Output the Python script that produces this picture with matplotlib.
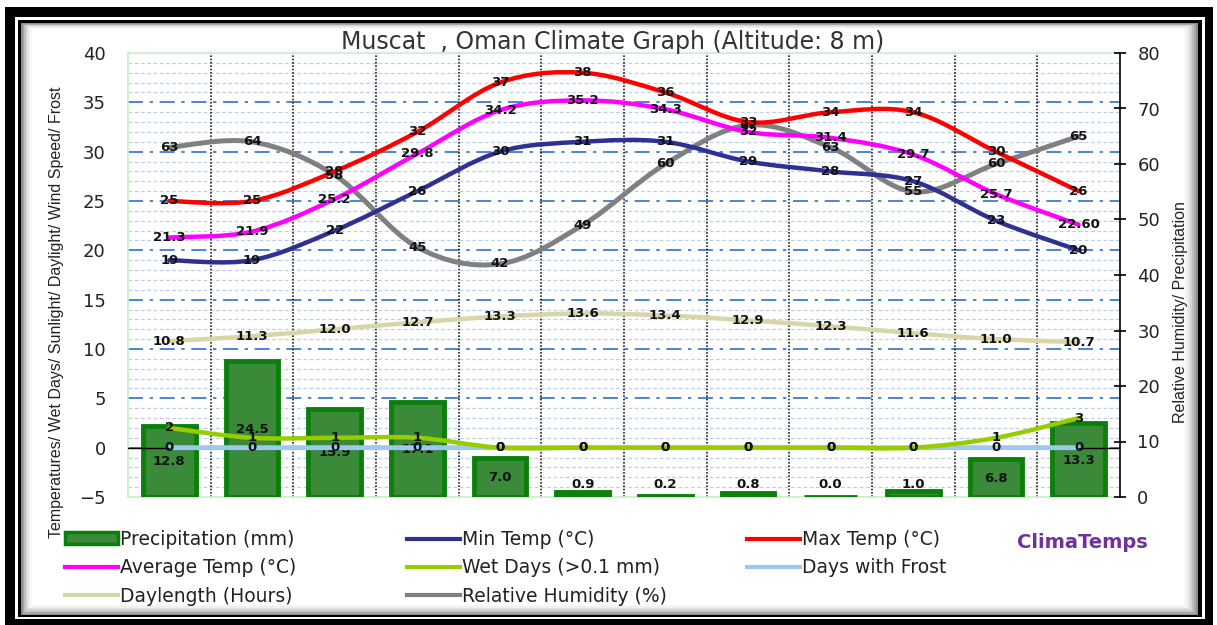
#!/usr/bin/env python3

import numpy as np
import matplotlib
matplotlib.use('Agg')
import matplotlib.pyplot as plt
from matplotlib.path import Path
from matplotlib.patches import PathPatch, Rectangle, Patch
from matplotlib.lines import Line2D

months = ['Jan', 'Feb', 'Mar', 'Apr', 'May', 'Jun', 'Jul', 'Aug', 'Sep', 'Oct', 'Nov', 'Dec']

precip = [12.8, 24.5, 15.9, 17.1, 7.0, 0.9, 0.2, 0.8, 0.0, 1.0, 6.8, 13.3]
min_temp = [19, 19, 22, 26, 30, 31, 31, 29, 28, 27, 23, 20]
max_temp = [25, 25, 28, 32, 37, 38, 36, 33, 34, 34, 30, 26]
avg_temp = [21.3, 21.9, 25.2, 29.8, 34.2, 35.2, 34.3, 32.0, 31.4, 29.7, 25.7, 22.6]
avg_labels = ['21.3', '21.9', '25.2', '29.8', '34.2', '35.2', '34.3', '32', '31.4', '29.7', '25.7', '22.60']
wet_days = [2, 1, 1, 1, 0, 0, 0, 0, 0, 0, 1, 3]
frost_days = [0, 0, 0, 0, 0, 0, 0, 0, 0, 0, 0, 0]
daylength = [10.8, 11.3, 12.0, 12.7, 13.3, 13.6, 13.4, 12.9, 12.3, 11.6, 11.0, 10.7]
humidity = [63, 64, 58, 45, 42, 49, 60, 67, 63, 55, 60, 65]

title = 'Muscat  , Oman Climate Graph (Altitude: 8 m)'

W, H = 1217, 625


def fx(px):
    return px / W


def fy(py):
    return 1 - py / H


def smooth_path(xs, ys):
    # excel style smoothed line: cubic bezier through the points
    pts = np.column_stack([xs, ys]).astype(float)
    n = len(pts)
    verts = [pts[0]]
    codes = [Path.MOVETO]
    for i in range(n - 1):
        p0 = pts[max(i - 1, 0)]
        p1 = pts[i]
        p2 = pts[i + 1]
        p3 = pts[min(i + 2, n - 1)]
        verts += [p1 + (p2 - p0) / 6, p2 - (p3 - p1) / 6, p2]
        codes += [Path.CURVE4] * 3
    return Path(verts, codes)


def add_smooth(axe, ys, color, lw=3.2):
    xs = np.arange(len(ys))
    axe.add_patch(PathPatch(smooth_path(xs, ys), fill=False, edgecolor=color,
                            lw=lw, capstyle='round', joinstyle='round'))


def add_labels(axe, ys, labels):
    for i, (v, s) in enumerate(zip(ys, labels)):
        axe.text(i, v, s, ha='center', va='center', fontsize=9.5, fontweight='bold', color='#111111')


fig = plt.figure(figsize=(W / 100, H / 100), dpi=100)
fig.patch.set_facecolor('white')

# frame
fig.add_artist(Rectangle((fx(5), fy(625)), fx(1213) - fx(5), fy(7) - fy(625),
                         transform=fig.transFigure, facecolor='black', edgecolor='none', zorder=-20))
fig.add_artist(Rectangle((fx(15), fy(619)), fx(1205) - fx(15), fy(17) - fy(619),
                         transform=fig.transFigure, facecolor='white', edgecolor='none', zorder=-19))
fig.add_artist(Rectangle((fx(18), fy(617)), fx(1202) - fx(18), fy(20) - fy(617),
                         transform=fig.transFigure, facecolor='black', edgecolor='none', zorder=-18))
shades = ['#8c8c8c', '#a8a8a8', '#c0c0c0', '#d4d4d4', '#e4e4e4', '#f0f0f0', '#f8f8f8', 'white']
for k, c in enumerate(shades):
    x0, y0, x1, y1 = 21 + k * 1.5, 23 + k * 0.8, 1198 - k * 2, 615 - k * 1.5
    fig.add_artist(Rectangle((fx(x0), fy(y1)), fx(x1) - fx(x0), fy(y0) - fy(y1),
                             transform=fig.transFigure, facecolor=c, edgecolor='none', zorder=-17 + k * 0.1))

rect = [fx(128), fy(497), fx(1120) - fx(128), fy(53) - fy(497)]
ax = fig.add_axes(rect)
axb = ax.twinx()
axt = ax.twinx()
ax.set_zorder(1)
axb.set_zorder(2)
axt.set_zorder(3)
axb.patch.set_visible(False)
axt.patch.set_visible(False)

x = np.arange(12)
for a in (ax, axb, axt):
    a.set_xlim(-0.5, 11.5)
ax.set_ylim(-5, 40)
axt.set_ylim(-5, 40)
axb.set_ylim(0, 80)

# grid
for v in range(-4, 40):
    if v % 5 == 0:
        ax.axhline(v, color='#2f6fcf', lw=1.2, ls=(0, (9, 4, 2, 4)), zorder=1)
    else:
        ax.axhline(v, color='#bcd0e8', lw=0.9, ls=(0, (3, 2)), zorder=0.5)
for b in np.arange(0.5, 11, 1):
    ax.axvline(b, color='#222222', lw=1.2, ls=(0, (1, 1)), zorder=2)

# precipitation bars and humidity on right scale
axb.bar(x, precip, width=0.64, color='#3a8a3a', edgecolor='#0a800a', lw=3.5, zorder=2)
for i, v in enumerate(precip):
    axb.text(i, max(v / 2, 2.2), f'{v:.1f}', ha='center', va='center',
             fontsize=9.5, fontweight='bold', color='#111111', zorder=5)
add_smooth(axb, humidity, '#808080', lw=3.6)
add_labels(axb, humidity, [str(v) for v in humidity])

# left scale series
axt.plot([-0.5, 0], [0, 0], color='black', lw=1)
axt.plot([11, 11.5], [0, 0], color='black', lw=1)
add_smooth(axt, daylength, '#d8d6a6')
add_labels(axt, daylength, [f'{v:.1f}' for v in daylength])
add_smooth(axt, frost_days, '#9cc8f2', lw=3.5)
add_smooth(axt, wet_days, '#99cc00')
add_labels(axt, frost_days, [str(v) for v in frost_days])
add_labels(axt, wet_days, [str(v) for v in wet_days])
add_smooth(axt, min_temp, '#2e3192')
add_labels(axt, min_temp, [str(v) for v in min_temp])
add_smooth(axt, avg_temp, '#ff00ff')
add_labels(axt, avg_temp, avg_labels)
add_smooth(axt, max_temp, '#ff0000')
add_labels(axt, max_temp, [str(v) for v in max_temp])

# axes styling
for a in (ax, axb, axt):
    for s in a.spines.values():
        s.set_visible(False)
for s in ('left', 'top', 'bottom'):
    ax.spines[s].set_visible(True)
    ax.spines[s].set_color('#c8f0c8')
    ax.spines[s].set_linewidth(1.2)
axb.spines['right'].set_visible(True)
axb.spines['right'].set_color('black')
axb.spines['right'].set_linewidth(1.2)

ax.set_yticks(range(-5, 41, 5))
ax.tick_params(axis='y', length=0, pad=16, labelsize=13, labelcolor='#222222')
ax.set_xticks(x)
ax.set_xticklabels(months)
ax.tick_params(axis='x', length=0, pad=8, labelsize=13, labelcolor='#222222')
axb.set_yticks(range(0, 81, 10))
axb.tick_params(axis='y', direction='inout', length=9, width=1.2, pad=8, labelsize=13, labelcolor='#222222')
axb.set_xticks([])
axt.set_xticks([])
axt.set_yticks([])

fig.text(fx(613), fy(42), title, ha='center', va='center', fontsize=17, color='#333333')
fig.text(fx(57), fy(312), 'Temperatures/ Wet Days/ Sunlight/ Daylight/ Wind Speed/ Frost',
         rotation=90, ha='center', va='center', fontsize=11.5, family='Liberation Sans', color='#222222')
fig.text(fx(1180), fy(312), 'Relative Humidity/ Precipitation',
         rotation=90, ha='center', va='center', fontsize=11.5, family='Liberation Sans', color='#222222')

# legend
h_pre = Patch(facecolor='#3a8a3a', edgecolor='#0a800a', lw=2.5)
h_min = Line2D([], [], color='#2e3192', lw=3)
h_max = Line2D([], [], color='#ff0000', lw=3)
h_avg = Line2D([], [], color='#ff00ff', lw=3)
h_wet = Line2D([], [], color='#99cc00', lw=3)
h_fro = Line2D([], [], color='#9cc8f2', lw=3)
h_day = Line2D([], [], color='#d8d6a6', lw=3)
h_hum = Line2D([], [], color='#808080', lw=3)
columns = [
    (65, [h_pre, h_avg, h_day], ['Precipitation (mm)', 'Average Temp (°C)', 'Daylength (Hours)']),
    (407, [h_min, h_wet, h_hum], ['Min Temp (°C)', 'Wet Days (>0.1 mm)', 'Relative Humidity (%)']),
    (747, [h_max, h_fro], ['Max Temp (°C)', 'Days with Frost']),
]
for px, hs, ls in columns:
    fig.legend(hs, ls, loc='upper left', bbox_to_anchor=(fx(px), fy(530)), frameon=False,
               borderpad=0, borderaxespad=0, handlelength=2.8, handleheight=0.6, handletextpad=0.12,
               labelspacing=0.5, fontsize=13.5, labelcolor='#222222')

fig.text(fx(1082), fy(543), 'ClimaTemps', ha='center', va='center', fontsize=14,
         fontweight='bold', color='#7030a0')

fig.savefig('out.png', dpi=100)
